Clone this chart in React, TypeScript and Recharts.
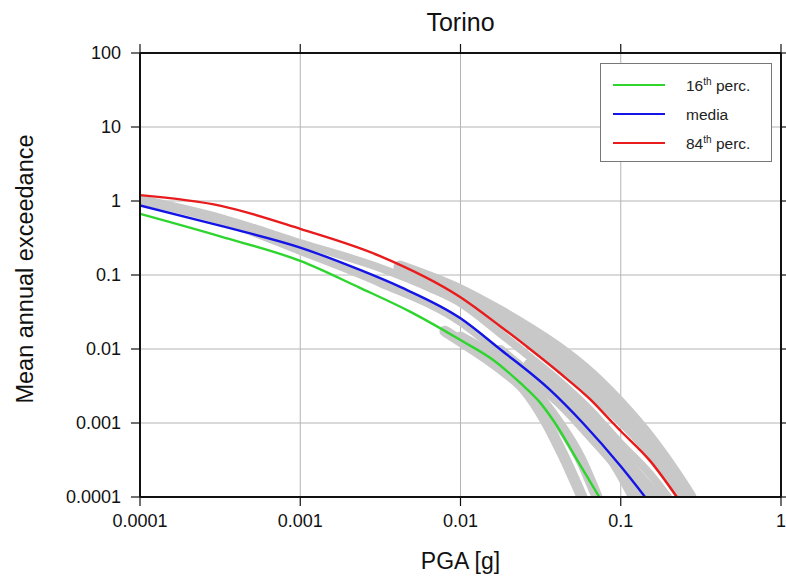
import React from 'react';
import { ComposedChart, Line, XAxis, YAxis, CartesianGrid, Label } from 'recharts';

type Pt = [number, number];

const TITLE = 'Torino';
const X_LABEL = 'PGA [g]';
const Y_LABEL = 'Mean annual exceedance';
const X_TICKS = [0.0001, 0.001, 0.01, 0.1, 1];
const Y_TICKS = [0.0001, 0.001, 0.01, 0.1, 1, 10, 100];

// Percentile / mean hazard curves: [PGA (g), annual exceedance rate]
const PERC16: Pt[] = [
  [0.0001, 0.67], [0.00032, 0.33], [0.001, 0.155], [0.00236, 0.067], [0.00484, 0.032],
  [0.01, 0.0132], [0.016, 0.0071], [0.0235, 0.0035], [0.0313, 0.0019], [0.0389, 0.001],
  [0.0533, 0.00032], [0.0735, 0.0001],
];
const MEDIA: Pt[] = [
  [0.0001, 0.87], [0.00032, 0.46], [0.001, 0.235], [0.00236, 0.117], [0.0042, 0.069],
  [0.01, 0.026], [0.0176, 0.01], [0.0362, 0.0028], [0.058, 0.001], [0.1, 0.00026],
  [0.142, 0.0001],
];
const PERC84: Pt[] = [
  [0.0001, 1.2], [0.00032, 0.86], [0.001, 0.42], [0.00315, 0.18], [0.01, 0.05],
  [0.0176, 0.0205], [0.0271, 0.01], [0.0418, 0.0047], [0.0643, 0.0021], [0.0894, 0.001],
  [0.1, 0.00078], [0.152, 0.00031], [0.224, 0.0001],
];

// Logic-tree branch curves (grey)
const BRANCH_1: Pt[] = [
  [0.00419, 0.128], [0.01, 0.0608], [0.0176, 0.0316], [0.0271, 0.0181], [0.0418, 0.0097],
  [0.0643, 0.00459], [0.0989, 0.00181], [0.152, 0.000608], [0.218, 0.000205], [0.2704, 0.0001],
];
const BRANCH_2: Pt[] = [
  [0.00645, 0.0856], [0.01, 0.0553], [0.0176, 0.0247], [0.0271, 0.01283], [0.0418, 0.00608],
  [0.0643, 0.00279], [0.0989, 0.00117], [0.152, 0.000432], [0.2445, 0.0001],
];
const BRANCH_3: Pt[] = [
  [0.0001, 1.064], [0.00032, 0.589], [0.001, 0.2706], [0.00315, 0.1243], [0.00645, 0.0667],
  [0.01, 0.0418], [0.0176, 0.01645], [0.0271, 0.0078], [0.0418, 0.00358], [0.0643, 0.0015],
  [0.0989, 0.000537], [0.152, 0.000205], [0.197, 0.0001],
];
const BRANCH_4: Pt[] = [
  [0.0271, 0.00608], [0.0418, 0.00262], [0.0643, 0.00103], [0.0989, 0.000358], [0.166, 0.0001],
];
const BRANCH_5: Pt[] = [
  [0.0176, 0.0094], [0.0271, 0.00432], [0.0418, 0.00192], [0.0643, 0.00071],
  [0.0989, 0.000247], [0.1396, 0.0001],
];
const BRANCH_6: Pt[] = [
  [0.0001, 1.0], [0.00032, 0.537], [0.001, 0.211], [0.00315, 0.078], [0.01, 0.0232],
  [0.0176, 0.00883], [0.0271, 0.00406], [0.0418, 0.00181], [0.0643, 0.00065],
  [0.0882, 0.000297], [0.1175, 0.0001],
];
const BRANCH_7: Pt[] = [
  [0.008, 0.0174], [0.01, 0.0128], [0.0176, 0.00553], [0.0253, 0.00279], [0.0337, 0.0011],
  [0.0436, 0.00037], [0.0573, 0.0001],
];
const BRANCH_8: Pt[] = [
  [0.01, 0.01453], [0.0176, 0.00689], [0.0271, 0.00307], [0.0406, 0.00103],
  [0.0557, 0.000336], [0.0711, 0.0001],
];

const BRANCHES: { data: Pt[]; w: number }[] = [
  { data: BRANCH_1, w: 13 },
  { data: BRANCH_2, w: 13 },
  { data: BRANCH_4, w: 13 },
  { data: BRANCH_5, w: 12 },
  { data: BRANCH_3, w: 8 },
  { data: BRANCH_6, w: 8 },
  { data: BRANCH_7, w: 11 },
  { data: BRANCH_8, w: 11 },
];

const SERIES = [
  { name: '16', sup: 'th', rest: ' perc.', color: '#2ed52e', data: PERC16 },
  { name: 'media', sup: '', rest: '', color: '#1414e6', data: MEDIA },
  { name: '84', sup: 'th', rest: ' perc.', color: '#e81c1c', data: PERC84 },
];

const FONT = '"Liberation Sans", Arial, Helvetica, sans-serif';
const GRAY = '#c8c8c8';

const toObjs = (arr: Pt[]) => arr.map(([x, y]) => ({ x, y }));
const fmt = (v: number) => String(v);
const NoLabel = () => <g />;

const YLabel = (props: any) => {
  const vb = props.viewBox || {};
  const cx = 33;
  const cy = (vb.y ?? 53) + (vb.height ?? 444) / 2 - 6;
  return (
    <text
      x={cx}
      y={cy}
      transform={`rotate(-90, ${cx}, ${cy})`}
      textAnchor="middle"
      fontSize={23.5}
      fontFamily={FONT}
      fill="#111"
    >
      {Y_LABEL}
    </text>
  );
};

const LegendBox = () => (
  <svg width={172} height={99} style={{ position: 'absolute', left: 600, top: 63 }}>
    <rect x={0.5} y={0.5} width={171} height={98} fill="#fff" stroke="#777" strokeWidth={1} />
    {SERIES.map((s, i) => {
      const cy = 22 + i * 29;
      return (
        <g key={s.name}>
          <line x1={13} x2={65} y1={cy} y2={cy} stroke={s.color} strokeWidth={2.2} />
          <text x={86} y={cy + 5.5} fontSize={15.5} fontFamily={FONT} fill="#222">
            {s.name}
            {s.sup ? (
              <tspan fontSize={10} dy={-6}>{s.sup}</tspan>
            ) : null}
            {s.rest ? <tspan dy={s.sup ? 6 : 0}>{s.rest}</tspan> : null}
          </text>
        </g>
      );
    })}
  </svg>
);

export default function App() {
  return (
    <div style={{ position: 'absolute', left: 0, top: 0, width: 786, height: 583, background: '#fff' }}>
      <div
        style={{
          position: 'absolute',
          left: 140,
          width: 641,
          top: 10,
          textAlign: 'center',
          fontFamily: FONT,
          fontSize: 25,
          lineHeight: '25px',
          color: '#111',
        }}
      >
        {TITLE}
      </div>
      <ComposedChart width={786} height={583} margin={{ top: 52, right: 4, bottom: 0, left: 0 }}>
        <CartesianGrid stroke="#b4b4b4" strokeWidth={1} />
        <XAxis
          dataKey="x"
          type="number"
          scale="log"
          domain={[0.0001, 1]}
          ticks={X_TICKS}
          allowDataOverflow
          interval={0}
          height={86}
          tickSize={9}
          tickMargin={8}
          tickFormatter={fmt}
          tickLine={{ stroke: '#111', strokeWidth: 1.2 }}
          axisLine={{ stroke: '#111', strokeWidth: 2 }}
          tick={{ fill: '#111', fontSize: 18, fontFamily: FONT }}
        >
          <Label value={X_LABEL} position="insideBottom" offset={14} fill="#111" fontSize={23} fontFamily={FONT} />
        </XAxis>
        <XAxis
          xAxisId="top"
          orientation="top"
          dataKey="x"
          type="number"
          scale="log"
          domain={[0.0001, 1]}
          ticks={X_TICKS}
          allowDataOverflow
          interval={0}
          height={1}
          tickSize={9}
          tick={NoLabel}
          tickLine={{ stroke: '#111', strokeWidth: 1.2 }}
          axisLine={{ stroke: '#111', strokeWidth: 2 }}
        />
        <YAxis
          type="number"
          scale="log"
          domain={[0.0001, 100]}
          ticks={Y_TICKS}
          allowDataOverflow
          interval={0}
          width={140}
          tickSize={9}
          tickMargin={10}
          tickFormatter={fmt}
          tickLine={{ stroke: '#111', strokeWidth: 1.2 }}
          axisLine={{ stroke: '#111', strokeWidth: 2 }}
          tick={{ fill: '#111', fontSize: 18, fontFamily: FONT }}
        >
          <Label content={<YLabel />} />
        </YAxis>
        <YAxis
          yAxisId="right"
          orientation="right"
          type="number"
          scale="log"
          domain={[0.0001, 100]}
          ticks={Y_TICKS}
          allowDataOverflow
          interval={0}
          width={1}
          tickSize={9}
          tick={NoLabel}
          tickLine={{ stroke: '#111', strokeWidth: 1.2 }}
          axisLine={{ stroke: '#111', strokeWidth: 2 }}
        />
        {BRANCHES.map((b, i) => (
          <Line
            key={`branch-${i}`}
            data={toObjs(b.data)}
            dataKey="y"
            type="monotone"
            stroke={GRAY}
            strokeWidth={b.w}
            strokeLinecap="round"
            dot={false}
            activeDot={false}
            isAnimationActive={false}
            legendType="none"
          />
        ))}
        {SERIES.map((s) => (
          <Line
            key={s.name}
            name={s.name}
            data={toObjs(s.data)}
            dataKey="y"
            type="monotone"
            stroke={s.color}
            strokeWidth={2.4}
            dot={false}
            activeDot={false}
            isAnimationActive={false}
          />
        ))}
      </ComposedChart>
      <LegendBox />
    </div>
  );
}
